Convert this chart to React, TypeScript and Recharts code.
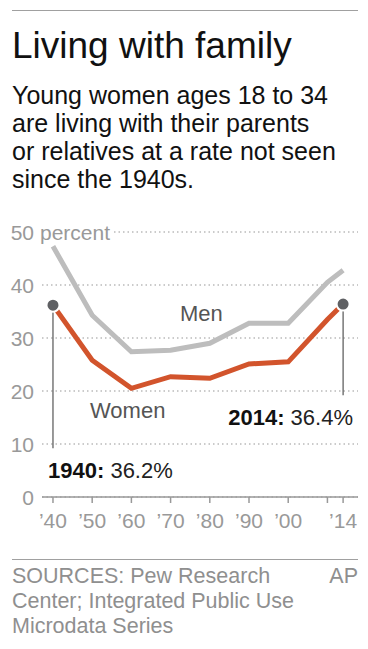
import { LineChart, Line, XAxis, YAxis, CartesianGrid, ReferenceDot, ReferenceLine } from "recharts"

const years = [1940, 1950, 1960, 1970, 1980, 1990, 2000, 2010, 2014]
const men = [47.3, 34.3, 27.4, 27.7, 29, 32.8, 32.8, 40.5, 42.8]
const women = [36.2, 25.8, 20.5, 22.7, 22.4, 25.1, 25.5, 33.5, 36.4]
const xTicks = [1940, 1950, 1960, 1970, 1980, 1990, 2000, 2010, 2014]
const xLabels = ["’40", "’50", "’60", "’70", "’80", "’90", "’00", "", "’14"]
const yTicks = [0, 10, 20, 30, 40, 50]
// highlighted points and how far their leader lines drop
const callouts = [
  { year: 1940, value: 36.2, lineTo: 9.2 },
  { year: 2014, value: 36.4, lineTo: 19.2 },
]

const data = years.map((y, i) => ({ year: y, men: men[i], women: women[i] }))

const FONT = '"Liberation Sans", Arial, Helvetica, sans-serif'
const GRAY = "#999"

function YTick(props: any) {
  const { x, y, payload } = props
  const v = payload.value
  if (v === 50) {
    return (
      <g>
        <rect x={x - 2} y={y - 12} width={82} height={24} fill="#fff" />
        <text x={x} y={y} dy="0.36em" textAnchor="end" fill={GRAY} fontSize={21} fontFamily={FONT}>50</text>
        <text x={x + 6} y={y} dy="0.36em" textAnchor="start" fill={GRAY} fontSize={21} fontFamily={FONT}>percent</text>
      </g>
    )
  }
  return (
    <text x={x} y={y} dy="0.36em" textAnchor="end" fill={GRAY} fontSize={21} fontFamily={FONT}>{v}</text>
  )
}

function XTick(props: any) {
  const { x, y, payload } = props
  const i = xTicks.indexOf(payload.value)
  return (
    <text x={x} y={y} dy="0.71em" textAnchor="middle" fill={GRAY} fontSize={21} fontFamily={FONT}>{xLabels[i]}</text>
  )
}

export default function App() {
  return (
    <div style={{ position: "absolute", left: 0, top: 0, width: 368, height: 649, background: "#fff", fontFamily: FONT }}>
      <div style={{ position: "absolute", left: 12, top: 10, width: 346, height: 1, background: "#a0a0a0" }} />
      <div style={{ position: "absolute", left: 12, top: 27, fontSize: 37, lineHeight: "37px", color: "#111", whiteSpace: "nowrap" }}>
        Living with family
      </div>
      <div style={{ position: "absolute", left: 12, top: 81, width: 356, fontSize: 25, lineHeight: "28px", color: "#111" }}>
        Young women ages 18 to 34<br />
        are living with their parents<br />
        or relatives at a rate not seen<br />
        since the 1940s.
      </div>

      <div style={{ position: "absolute", left: 0, top: 0 }}>
        <LineChart width={368} height={560} data={data} margin={{ top: 232, right: 10, bottom: 33, left: 0 }}>
          <CartesianGrid vertical={false} stroke="#bbb" strokeDasharray="1.5 3" strokeWidth={1.5} />
          <YAxis
            type="number"
            domain={[0, 50]}
            ticks={yTicks}
            width={42}
            axisLine={false}
            tickLine={false}
            tick={<YTick />}
            interval={0}
          />
          <XAxis
            dataKey="year"
            type="number"
            domain={[1937.2, 2017.8]}
            ticks={xTicks}
            interval={0}
            allowDataOverflow
            axisLine={{ stroke: GRAY, strokeWidth: 1.5 }}
            tickLine={{ stroke: GRAY, strokeWidth: 1.5 }}
            tickSize={6}
            tickMargin={10}
            height={30}
            tick={<XTick />}
          />
          {callouts.map((c) => (
            <ReferenceLine
              key={"l" + c.year}
              segment={[{ x: c.year, y: c.value }, { x: c.year, y: c.lineTo }]}
              stroke="#555"
              strokeWidth={1.2}
            />
          ))}
          <Line dataKey="men" stroke="#bdbdbd" strokeWidth={5} dot={false} isAnimationActive={false} strokeLinejoin="miter" />
          <Line dataKey="women" stroke="#d2542c" strokeWidth={5} dot={false} isAnimationActive={false} strokeLinejoin="miter" />
          {callouts.map((c) => (
            <ReferenceDot key={"d" + c.year} x={c.year} y={c.value} r={6.5} fill="#5f6063" stroke="#fff" strokeWidth={2} />
          ))}
        </LineChart>
      </div>

      <svg width={368} height={560} style={{ position: "absolute", left: 0, top: 0, pointerEvents: "none" }}>
        <text x={180} y={321} fontSize={22} fill="#555" fontFamily={FONT}>Men</text>
        <text x={90} y={418} fontSize={22} fill="#555" fontFamily={FONT}>Women</text>
        <text x={353} y={425} fontSize={22} textAnchor="end" fill="#222" fontFamily={FONT}>
          <tspan fontWeight="bold" fill="#111">2014:</tspan> 36.4%
        </text>
        <text x={48} y={478} fontSize={22} fill="#222" fontFamily={FONT}>
          <tspan fontWeight="bold" fill="#111">1940:</tspan> 36.2%
        </text>
      </svg>

      <div style={{ position: "absolute", left: 12, top: 559, width: 346, height: 1, background: "#a0a0a0" }} />
      <div style={{ position: "absolute", left: 12, top: 564, fontSize: 21.5, lineHeight: "25px", color: "#8f8f8f", whiteSpace: "nowrap" }}>
        SOURCES: Pew Research<br />
        Center; Integrated Public Use<br />
        Microdata Series
      </div>
      <div style={{ position: "absolute", right: 10, top: 564, fontSize: 21.5, lineHeight: "25px", color: "#8f8f8f" }}>AP</div>
    </div>
  )
}
